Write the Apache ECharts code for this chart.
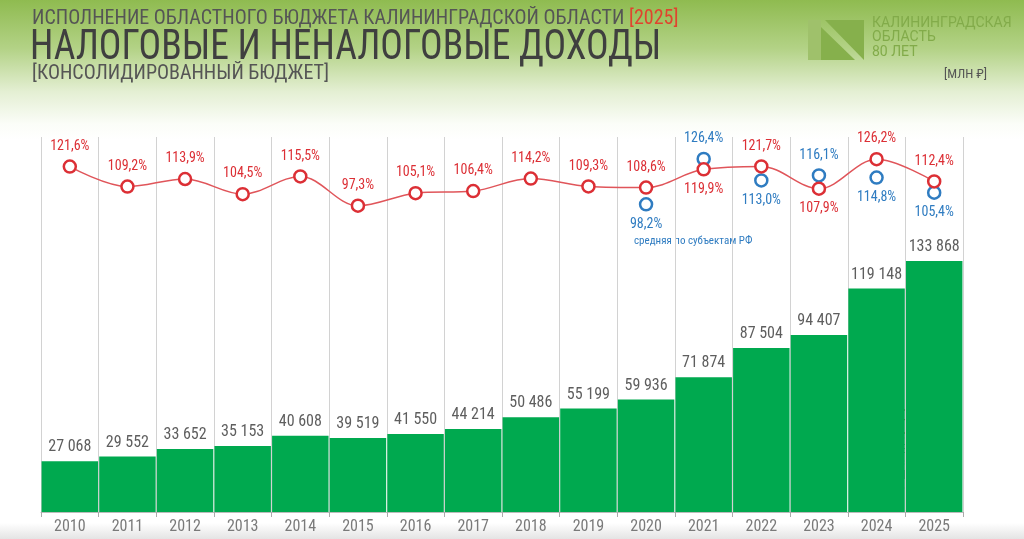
<!DOCTYPE html>
<html>
<head>
<meta charset="utf-8">
<script src="https://cdn.jsdelivr.net/npm/echarts@6/dist/echarts.min.js"></script>
<style>
    html, body { margin: 0; padding: 0; background: #fff; }
    #chart { width: 1024px; height: 539px; }
</style>
</head>
<body>
<div id="chart"></div>
<script>
// данные
var years = ['2010','2011','2012','2013','2014','2015','2016','2017','2018','2019','2020','2021','2022','2023','2024','2025'];
var incomeValues = [27068, 29552, 33652, 35153, 40608, 39519, 41550, 44214, 50486, 55199, 59936, 71874, 87504, 94407, 119148, 133868];
var growthRegion = [121.6, 109.2, 113.9, 104.5, 115.5, 97.3, 105.1, 106.4, 114.2, 109.3, 108.6, 119.9, 121.7, 107.9, 126.2, 112.4];
var growthRussia = [null, null, null, null, null, null, null, null, null, null, 98.2, 126.4, 113.0, 116.1, 114.8, 105.4];
var deltaTotal = '+14 720', deltaOB = 'ОБ +12 050', deltaMB = 'МБ  +2 670';

var NARROW = "'Roboto Condensed', 'Liberation Sans Narrow', 'Arial Narrow', Roboto, sans-serif";
var RED = '#dc2f35', BLUE = '#2f7cc1', GREEN = '#00a94f';

function fmtNum(v) {
    return String(v).replace(/\B(?=(\d{3})+(?!\d))/g, ' ');
}
function fmtPct(v) {
    return v.toFixed(1).replace('.', ',') + '%';
}

// подписи: красная под точкой, если синяя выше
var redData = growthRegion.map(function (v, i) {
    var b = growthRussia[i];
    return { value: v, label: { position: (b != null && b > v) ? 'bottom' : 'top' } };
});
var blueData = growthRussia.map(function (v, i) {
    if (v == null) return null;
    return { value: v, label: { position: v > growthRegion[i] ? 'top' : 'bottom' } };
});

var chart = echarts.init(document.getElementById('chart'));

var option = {
    animation: false,
    grid: { left: 41, right: 61, top: 137, bottom: 27 },
    xAxis: {
        type: 'category',
        data: years,
        axisLine: { lineStyle: { color: '#bbbbbb' } },
        axisTick: { show: true, length: 5, lineStyle: { color: '#aaaaaa' } },
        axisLabel: { color: '#7a7a7a', fontSize: 16, fontFamily: NARROW, margin: 7 },
        splitLine: { show: true, lineStyle: { color: '#d2d2d2', width: 1 } }
    },
    yAxis: [
        { type: 'value', min: 0, max: 200000, show: false, splitLine: { show: false } },
        { type: 'value', min: -93, max: 140, show: false, splitLine: { show: false } }
    ],
    series: [
        {
            type: 'bar',
            data: incomeValues,
            barCategoryGap: '2%',
            itemStyle: { color: GREEN },
            label: {
                show: true, position: 'top', distance: 6,
                color: '#5e5e5e', fontSize: 16, fontFamily: NARROW,
                formatter: function (p) { return fmtNum(p.value); }
            }
        },
        {
            type: 'line',
            yAxisIndex: 1,
            data: redData,
            smooth: 0.35,
            symbol: 'circle',
            symbolSize: 12,
            lineStyle: { color: '#e0555a', width: 1.5 },
            itemStyle: { color: '#ffffff', borderColor: RED, borderWidth: 2.5 },
            label: {
                show: true, distance: 6,
                color: RED, fontSize: 14, fontFamily: NARROW,
                formatter: function (p) { return fmtPct(p.value); }
            },
            z: 4
        },
        {
            type: 'line',
            yAxisIndex: 1,
            data: blueData,
            symbol: 'circle',
            symbolSize: 12,
            lineStyle: { width: 0, opacity: 0 },
            connectNulls: false,
            itemStyle: { color: '#ffffff', borderColor: BLUE, borderWidth: 2.5 },
            label: {
                show: true, distance: 6,
                color: BLUE, fontSize: 14, fontFamily: NARROW,
                formatter: function (p) { return fmtPct(p.value); }
            },
            z: 3
        }
    ],
    graphic: [
        {
            type: 'rect', z: -10, silent: true,
            shape: { x: 0, y: 0, width: 1024, height: 539 },
            style: {
                fill: new echarts.graphic.LinearGradient(0, 0, 0, 1, [
                    { offset: 0, color: '#8fbb50' },
                    { offset: 0.09, color: '#b3d286' },
                    { offset: 0.17, color: '#e4efd3' },
                    { offset: 0.23, color: '#fbfdf8' },
                    { offset: 0.26, color: '#ffffff' },
                    { offset: 0.97, color: '#ffffff' },
                    { offset: 1, color: '#e4e4e4' }
                ])
            }
        },
        // заголовки
        {
            type: 'text', left: 32, top: 9,
            style: {
                text: 'ИСПОЛНЕНИЕ ОБЛАСТНОГО БЮДЖЕТА КАЛИНИНГРАДСКОЙ ОБЛАСТИ {r|[2025]}',
                fill: '#555555', fontSize: 20, fontFamily: NARROW,
                rich: { r: { fill: '#e0442e', fontSize: 20, fontFamily: NARROW } }
            }
        },
        {
            type: 'text', x: 30, y: 27, scaleX: 0.875,
            style: { text: 'НАЛОГОВЫЕ И НЕНАЛОГОВЫЕ ДОХОДЫ', fill: '#3f3f3f', fontSize: 43, fontFamily: NARROW }
        },
        {
            type: 'text', left: 32, top: 64,
            style: { text: '[КОНСОЛИДИРОВАННЫЙ БЮДЖЕТ]', fill: '#555555', fontSize: 20, fontFamily: NARROW }
        },
        // логотип
        {
            type: 'polygon', silent: true,
            shape: { points: [[808, 20], [821, 20], [821, 60], [808, 60]] },
            style: { fill: '#9fc16b' }
        },
        {
            type: 'polygon', silent: true,
            shape: { points: [[825, 20], [864, 20], [864, 60]] },
            style: { fill: '#86b04c' }
        },
        {
            type: 'polygon', silent: true,
            shape: { points: [[821, 27], [855, 60], [821, 60]] },
            style: { fill: '#86b04c' }
        },
        {
            type: 'text', left: 872, top: 16,
            style: { text: 'КАЛИНИНГРАДСКАЯ\nОБЛАСТЬ\n80 ЛЕТ', fill: '#82ab4a', fontSize: 14, lineHeight: 14.5, fontFamily: 'Roboto, sans-serif' }
        },
        {
            type: 'text', left: 944, top: 68,
            style: { text: '[МЛН ₽]', fill: '#555555', fontSize: 13, fontFamily: NARROW }
        },
        {
            type: 'text', left: 634, top: 236,
            style: { text: 'средняя по субъектам РФ', fill: BLUE, fontSize: 11, fontFamily: NARROW }
        },
        // приросты
        {
            type: 'rect', shape: { x: 887, y: 410, width: 68, height: 23 },
            style: { fill: '#ffffff', stroke: '#b4503a', lineWidth: 1.5 }
        },
        {
            type: 'text', x: 921, y: 421.5,
            style: { text: deltaTotal, fill: RED, fontSize: 14, fontFamily: NARROW, align: 'center', verticalAlign: 'middle' }
        },
        {
            type: 'rect', shape: { x: 887, y: 438, width: 68, height: 23 },
            style: { fill: '#ffffff', stroke: '#cccccc', lineWidth: 1 }
        },
        {
            type: 'text', x: 921, y: 449.5,
            style: { text: deltaOB, fill: '#8a8a8a', fontSize: 12, fontFamily: NARROW, align: 'center', verticalAlign: 'middle' }
        },
        {
            type: 'rect', shape: { x: 887, y: 464, width: 68, height: 24 },
            style: { fill: '#ffffff', stroke: '#cccccc', lineWidth: 1 }
        },
        {
            type: 'text', x: 921, y: 476,
            style: { text: deltaMB, fill: '#8a8a8a', fontSize: 12, fontFamily: NARROW, align: 'center', verticalAlign: 'middle' }
        }
    ]
};

chart.setOption(option);
</script>
</body>
</html>
